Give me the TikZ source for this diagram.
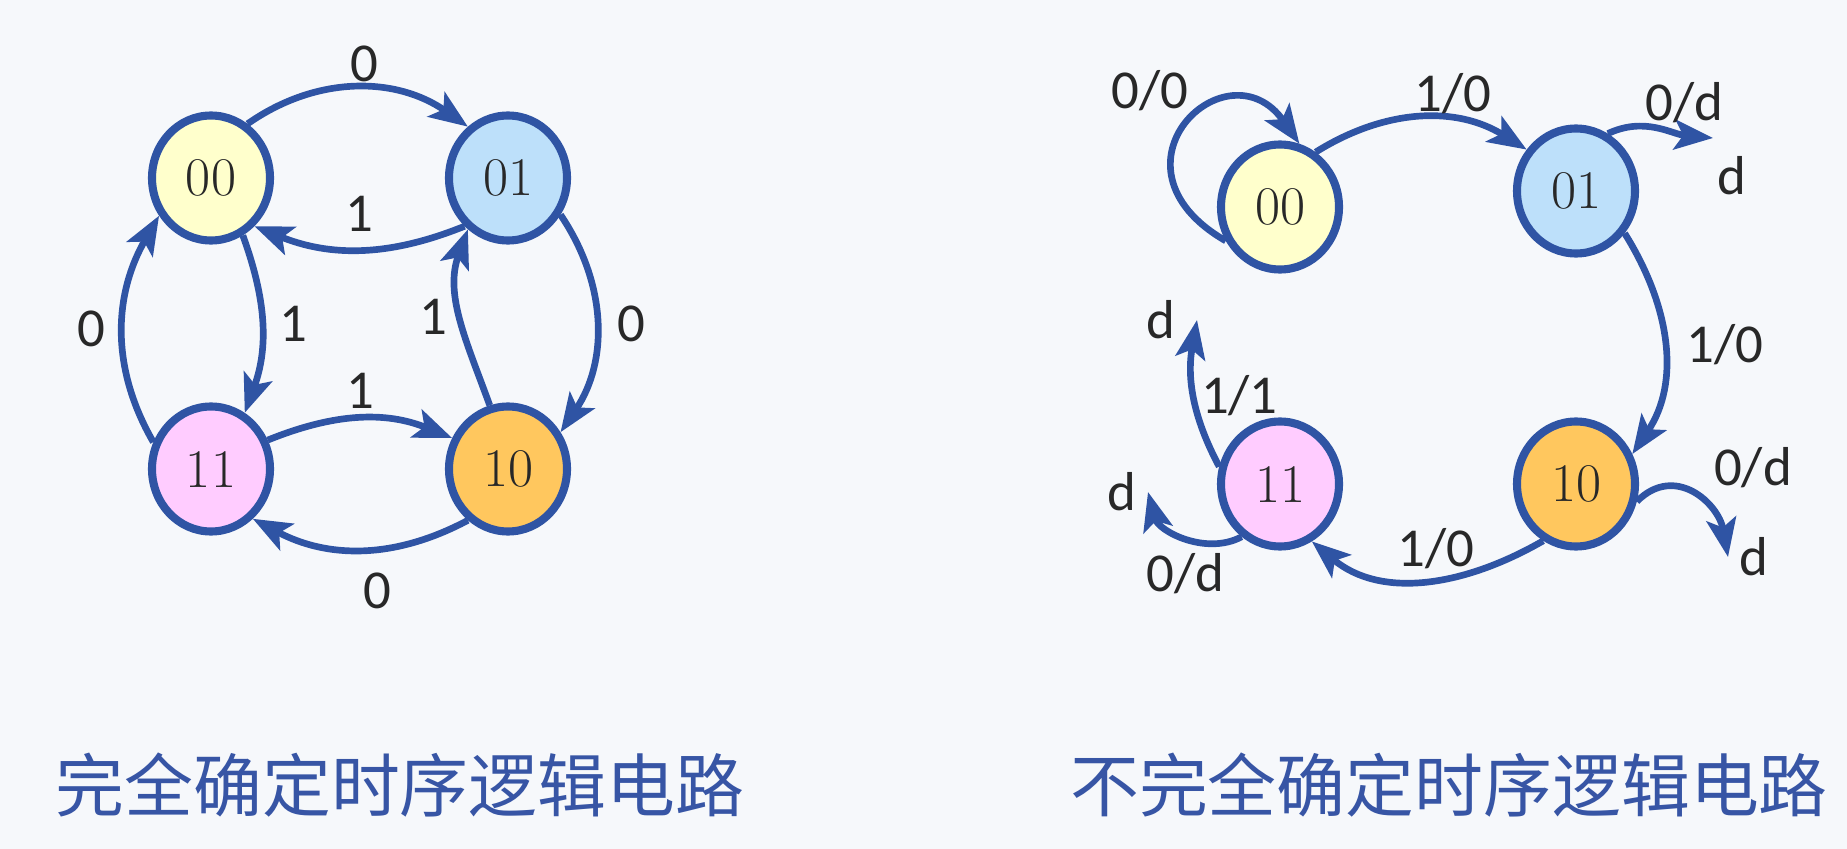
\documentclass[tikz,border=0pt]{standalone}
\usepackage{fontspec}
\newfontfamily\labelfont{Carlito}
\newfontfamily\cjkfont{Noto Sans CJK SC}
\usepackage{tikz}
\usetikzlibrary{positioning,arrows.meta,shapes.geometric,shadows}
\definecolor{edgeblue}{RGB}{47,84,164}
\definecolor{titleblue}{RGB}{55,85,165}
\definecolor{txtgray}{RGB}{40,40,40}
\definecolor{bgpaper}{RGB}{246,248,251}
\definecolor{st00}{RGB}{255,255,204}
\definecolor{st01}{RGB}{189,224,250}
\definecolor{st11}{RGB}{255,204,255}
\definecolor{st10}{RGB}{255,199,94}
\tikzset{%
  >={Stealth[length=11pt,width=8.5pt,inset=2.5pt]},
  st/.style={ellipse,draw=edgeblue,line width=2.3pt,minimum width=1.18cm,minimum height=1.25cm,
             inner sep=0pt,text=txtgray,font=\fontsize{15.5}{17}\selectfont,
             drop shadow={opacity=.25,shadow xshift=.8pt,shadow yshift=-.8pt}},
  line/.style={draw=edgeblue,line width=1.9pt,->},
  title/.style={font=\cjkfont\fontsize{19.6}{22}\selectfont,text=titleblue}
}

\begin{document}
\begin{tikzpicture}[e/.style={inner sep=1pt,text=txtgray,%
                    font=\labelfont\fontsize{15.6}{18}\selectfont}]
  \fill[bgpaper] (0,0) rectangle (18.47,-8.49);
  \useasboundingbox (0,0) rectangle (18.47,-8.49);

  % completely specified
  \node[st,fill=st00] (full-00) at (2.11,-1.78) {00};
  \node[st,fill=st01] (full-01) at (5.08,-1.78) {01};
  \node[st,fill=st11] (full-11) at (2.11,-4.69) {11};
  \node[st,fill=st10] (full-10) at (5.08,-4.69) {10};
  \draw[line] (full-00.56) to[out=35,in=145] node[e,above,pos=.53] (lab-a) {0} (full-01.128);
  \draw[line] (full-01.228) to[out=202,in=-22] node[e,above=3pt] (lab-b) {1} (full-00.312);
  \draw[line] (full-00.299) to[out=-70,in=70] node[e,right=3pt] (lab-c) {1} (full-11.59);
  \draw[line] (full-11.155) to[out=120,in=240] node[e,left=3pt] (lab-d) {0} (full-00.216);
  \draw[line] (full-01.325) to[out=-56,in=56] node[e,right=4pt] (lab-e) {0} (full-10.35);
  \draw[line] (full-10.106) to[out=110,in=250] node[e,left=2pt] (lab-f) {1} (full-01.232);
  \draw[line] (full-11.27) to[out=22,in=158] node[e,above=1pt] (lab-g) {1} (full-10.151);
  \draw[line] (full-10.232) to[out=208,in=332] node[e,below=5pt,pos=.42] (lab-h) {0} (full-11.310);

  % incompletely specified
  \node[st,fill=st00] (part-00) at (12.80,-2.07) {00};
  \node[st,fill=st01] (part-01) at (15.76,-1.91) {01};
  \node[st,fill=st11] (part-11) at (12.80,-4.84) {11};
  \node[st,fill=st10] (part-10) at (15.76,-4.84) {10};
  \coordinate (end-01) at (17.13,-1.38);
  \coordinate (end-10) at (17.28,-5.57);
  \coordinate (end-11a) at (11.97,-3.20);
  \coordinate (end-11b) at (11.48,-4.92);
  \draw[line] (part-00.212) .. controls +(150:1.5) and +(125:1.25) ..
    node[e,pos=.55,above left] (lab-00) {0/0} (part-00.73);
  \draw[line] (part-00.57) to[out=32,in=148] node[e,above,pos=.65] (lab-0001) {1/0} (part-01.140);
  \draw[line] (part-01.61) to[out=25,in=175] node[e,above=1pt,pos=.75] (lab-01d) {0/d} (end-01);
  \node[e,below right=4pt and 0pt of end-01] (nx-01) {d};
  \draw[line] (part-01.319) to[out=-58,in=56] node[e,right=4.5pt] (lab-0110) {1/0} (part-10.28);
  \draw[line] (part-10.344) to[out=45,in=100,looseness=1.3]
    node[e,pos=.5,above right=0pt and 4pt] (lab-10d) {0/d} (end-10);
  \node[e,right=2pt of end-10] (nx-10) {d};
  \draw[line] (part-10.240) to[out=210,in=320] node[e,above=1pt,pos=.45] (lab-1011) {1/0} (part-11.299);
  \draw[line] (part-11.164) to[out=118,in=-100] node[e,right=0pt] (lab-11a) {1/1} (end-11a);
  \node[e,left=5pt of end-11a] (nx-11a) {d};
  \draw[line] (part-11.234) to[out=208,in=-75] node[e,below=3pt] (lab-11b) {0/d} (end-11b);
  \node[e,left=2pt of end-11b] (nx-11b) {d};

  \node[title] (cap-full) at (4.00,-7.85) {完全确定时序逻辑电路};
  \node[title] (cap-part) at (14.49,-7.85) {不完全确定时序逻辑电路};
\end{tikzpicture}
\end{document}
